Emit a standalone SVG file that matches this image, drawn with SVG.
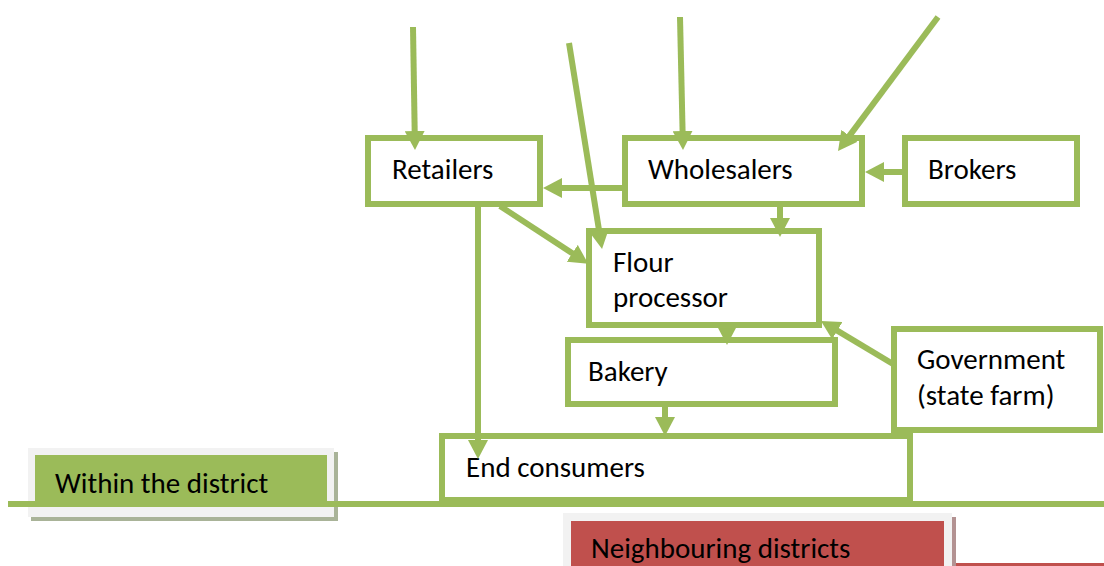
<svg xmlns="http://www.w3.org/2000/svg" width="1104" height="566" viewBox="0 0 1104 566">
  <defs>
    <style>
      .box { fill: #ffffff; stroke: #9BBB59; stroke-width: 6; }
      .lbl { font-family: Carlito, "Open Sans", "Liberation Sans", sans-serif; font-size: 29px; fill: #000000; }
      .con { stroke: #9BBB59; stroke-width: 6; fill: none; marker-end: url(#arrow); }
    </style>
    <marker id="arrow" markerUnits="userSpaceOnUse" markerWidth="19" markerHeight="20" refX="1" refY="10" orient="auto" viewBox="0 0 19 20">
      <path d="M0,0 L19,10 L0,20 z" fill="#9BBB59"/>
    </marker>
  </defs>

  <rect width="1104" height="566" fill="#ffffff"/>

  <!-- area labels -->
  <g id="within-district">
    <rect x="31" y="452" width="307" height="69" fill="#A9B398"/>
    <rect x="28" y="448" width="306" height="69" fill="#F2F2F2"/>
    <rect x="35" y="455" width="292" height="50" fill="#9BBB59"/>
    <text class="lbl" x="55" y="493">Within the district</text>
  </g>
  <g id="neighbouring-districts">
    <rect x="566" y="517" width="390" height="49" fill="#B39292"/>
    <rect x="563" y="513" width="389" height="53" fill="#F2F2F2"/>
    <rect x="571" y="521" width="373" height="45" fill="#C0504D"/>
    <text class="lbl" x="591" y="558">Neighbouring districts</text>
    <rect x="956" y="563" width="148" height="3" fill="#C0504D"/>
  </g>

  <!-- boundary line between the areas -->
  <line x1="8" y1="504" x2="1104" y2="504" stroke="#9BBB59" stroke-width="6"/>

  <!-- actors -->
  <g id="retailers">
    <rect class="box" x="368" y="138" width="172" height="66"/>
    <text class="lbl" x="392" y="179">Retailers</text>
  </g>
  <g id="wholesalers">
    <rect class="box" x="625" y="138" width="237" height="66"/>
    <text class="lbl" x="648" y="179">Wholesalers</text>
  </g>
  <g id="brokers">
    <rect class="box" x="905" y="138" width="172" height="66"/>
    <text class="lbl" x="928" y="179">Brokers</text>
  </g>
  <g id="flour-processor">
    <rect class="box" x="589" y="231" width="230" height="94"/>
    <text class="lbl" x="613" y="272">Flour</text>
    <text class="lbl" x="613" y="307">processor</text>
  </g>
  <g id="bakery">
    <rect class="box" x="568" y="340" width="267" height="64"/>
    <text class="lbl" x="588" y="381">Bakery</text>
  </g>
  <g id="end-consumers">
    <rect class="box" x="442" y="436" width="468" height="64"/>
    <text class="lbl" x="466" y="477">End consumers</text>
  </g>
  <g id="government">
    <rect class="box" x="894" y="329" width="206" height="101"/>
    <text class="lbl" x="917" y="369">Government</text>
    <text class="lbl" x="917" y="405">(state farm)</text>
  </g>

  <!-- flows -->
  <g id="connectors">
    <line class="con" x1="413" y1="27" x2="414.7" y2="132"/>
    <line class="con" x1="569" y1="43" x2="599.2" y2="231.2"/>
    <line class="con" x1="680" y1="17" x2="682.6" y2="132"/>
    <line class="con" x1="938" y1="17" x2="848.8" y2="136.6"/>
    <line class="con" x1="902" y1="172" x2="883" y2="172"/>
    <line class="con" x1="622" y1="188" x2="561" y2="188"/>
    <line class="con" x1="780" y1="207" x2="780" y2="219"/>
    <line class="con" x1="500" y1="206" x2="573.1" y2="253.8"/>
    <line class="con" x1="478" y1="207" x2="478" y2="441"/>
    <line class="con" x1="727" y1="322" x2="727" y2="327"/>
    <line class="con" x1="665" y1="407" x2="665" y2="418"/>
    <line class="con" x1="893" y1="364" x2="836.4" y2="330.2"/>
  </g>
</svg>
